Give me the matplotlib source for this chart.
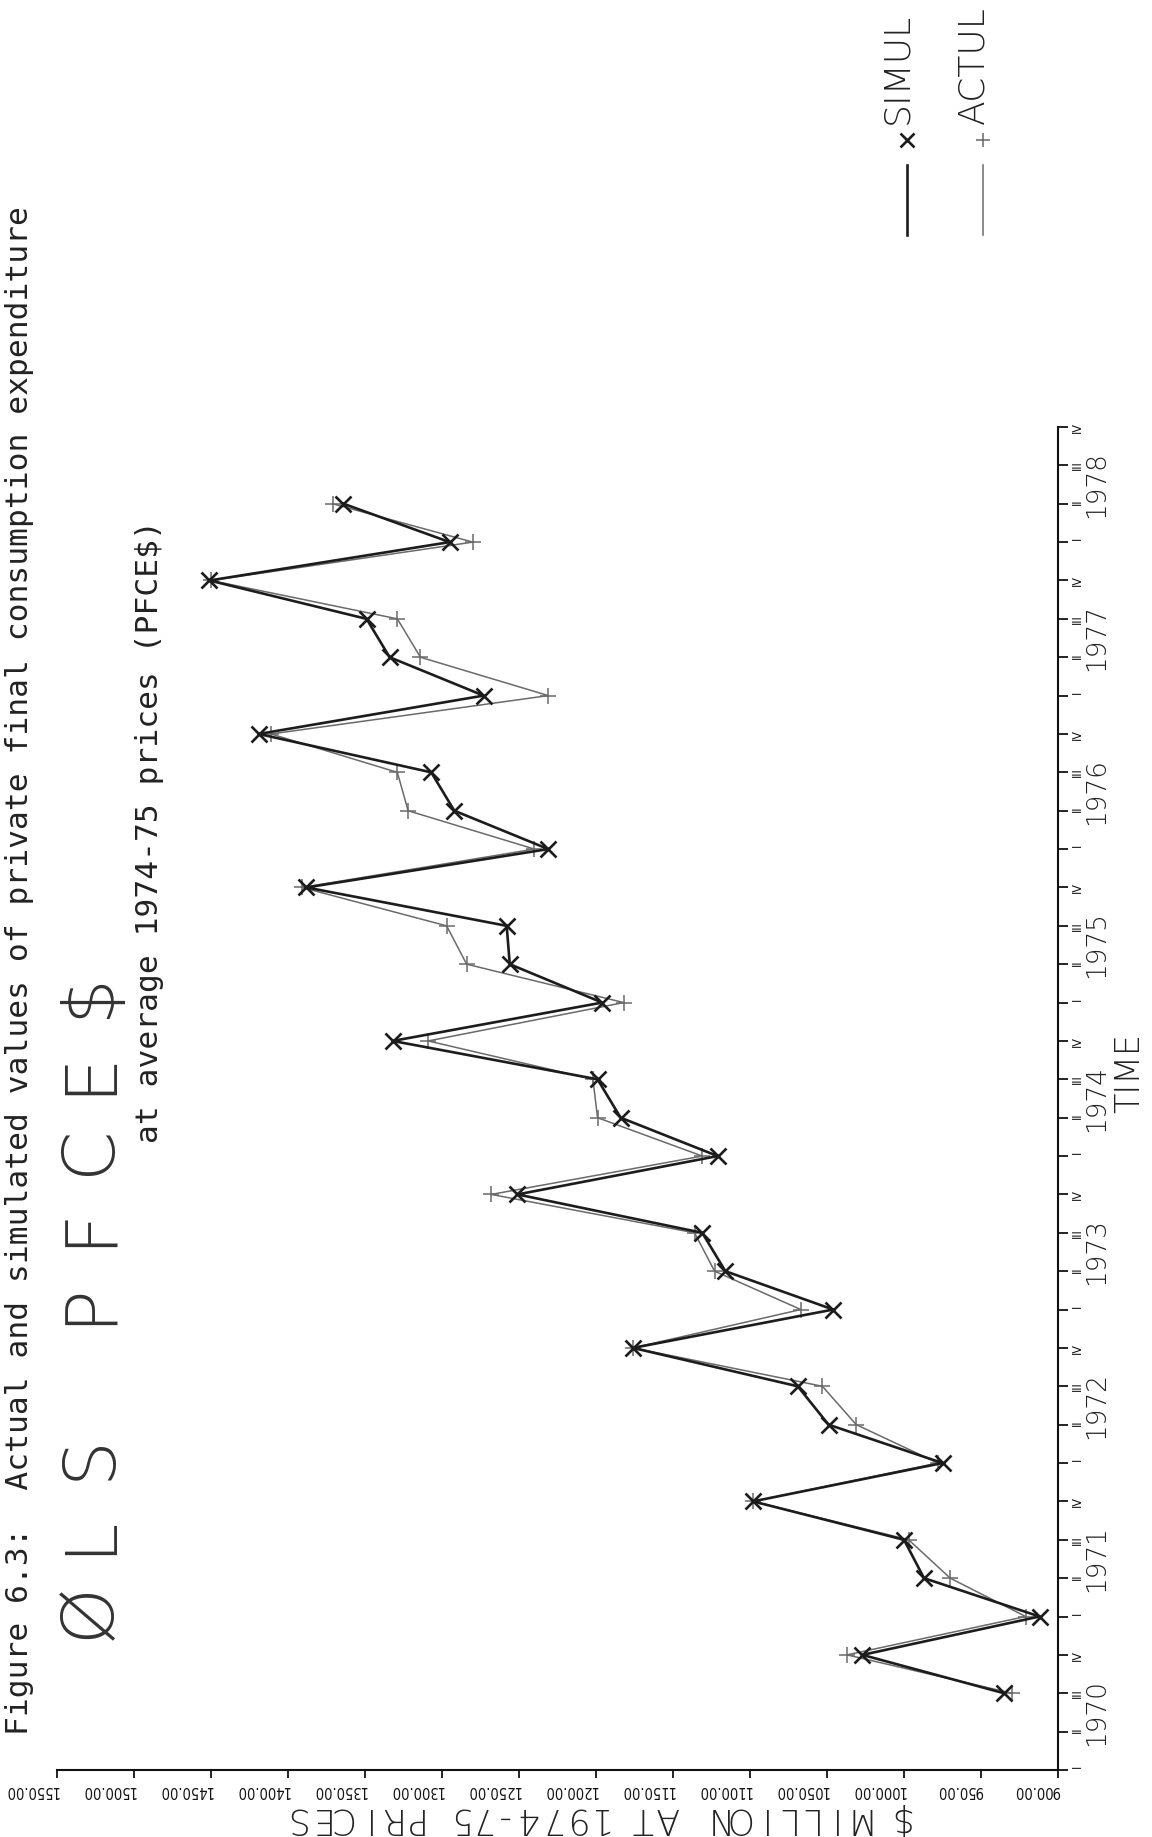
import os
import numpy as np
import matplotlib
matplotlib.use("Agg")
import matplotlib.pyplot as plt
from matplotlib import font_manager as fm
from matplotlib import transforms
from matplotlib.lines import Line2D

# ---------------- data ----------------
years = [1970, 1971, 1972, 1973, 1974, 1975, 1976, 1977, 1978]
quarter_names = ["I", "II", "III", "IV"]
# observations run from 1970 III to 1978 II
first_obs_index = 2  # 1970 III (index 0 = 1970 I)
simul = [935, 1027, 912, 987, 1000, 1098, 975, 1049, 1069, 1176,
         1046, 1116, 1131, 1251, 1121, 1184, 1199, 1332, 1196, 1256,
         1258, 1388, 1231, 1292, 1307, 1419, 1273, 1334, 1349, 1451,
         1295, 1364]
actual = [930, 1037, 921, 970, 997, 1098, 978, 1031, 1053, 1176,
          1067, 1123, 1136, 1268, 1131, 1199, 1202, 1309, 1182, 1284,
          1297, 1391, 1240, 1322, 1329, 1411, 1231, 1314, 1329, 1450,
          1280, 1371]
value_ticks = [900, 950, 1000, 1050, 1100, 1150, 1200, 1250, 1300,
               1350, 1400, 1450, 1500, 1550]

title_text = "ØLS PFCE$"
caption1 = "Figure 6.3:  Actual and simulated values of private final consumption expenditure"
caption2 = "at average 1974-75 prices (PFCE$)"
ylabel_text = "$ MILLION AT 1974-75 PRICES"
xlabel_text = "TIME"
legend_names = ["SIMUL", "ACTUL"]

# ---------------- fonts ----------------
def find_font(names):
    files = {}
    for f in fm.fontManager.ttflist:
        files[os.path.basename(f.fname).lower()] = f.fname
    for n in names:
        if n.lower() in files:
            return files[n.lower()]
    return None

narrow_file = find_font(["LiberationSansNarrow-Regular.ttf",
                         "NotoSans-CondensedLight.ttf",
                         "NotoSans-Condensed.ttf",
                         "OpenSans-CondensedLight.ttf",
                         "OpenSans_Condensed-Light.ttf",
                         "DejaVuSansCondensed.ttf"])

def narrow_fp(size):
    if narrow_file:
        return fm.FontProperties(fname=narrow_file, size=size)
    return fm.FontProperties(family="DejaVu Sans", size=size)

W, H = 1152, 1837
fig = plt.figure(figsize=(W / 100, H / 100), dpi=100)
fig.patch.set_facecolor("white")

def fx(px):
    return px / W

def fy(py):
    return 1 - py / H

# axes geometry in pixels
ax_left, ax_right = 57, 1058
ax_top, ax_bottom = 427, 1770
ax = fig.add_axes([fx(ax_left), fy(ax_bottom), fx(ax_right) - fx(ax_left),
                   fy(ax_top) - fy(ax_bottom)])
ax.set_facecolor("none")

n_q = len(years) * 4
t = np.arange(first_obs_index, first_obs_index + len(simul))

ax.plot(actual, t, color="#6a6a6a", lw=1.1, marker="+", ms=11, mew=1.1,
        zorder=2)
ax.plot(simul, t, color="#1c1c1c", lw=1.9, marker="x", ms=11, mew=1.9,
        zorder=3)

ax.set_xlim(1550, 900)
ax.set_ylim(0, n_q - 1)

for s in ["top", "left"]:
    ax.spines[s].set_visible(False)
for s in ["right", "bottom"]:
    ax.spines[s].set_linewidth(1.5)
    ax.spines[s].set_color("#111111")

# value axis (bottom)
ax.set_xticks(value_ticks)
ax.set_xticklabels(["%.2f" % v for v in value_ticks], rotation=180,
                   ha="right", va="top", fontproperties=narrow_fp(10.5))
ax.tick_params(axis="x", direction="out", length=6, width=1.3, pad=3,
               colors="#111111")
off = transforms.ScaledTranslation(2 / 100, 0, fig.dpi_scale_trans)
for lab in ax.get_xticklabels():
    lab.set_transform(lab.get_transform() + off)

# time axis (right)
ax.yaxis.tick_right()
ax.set_yticks(np.arange(n_q))
ax.set_yticklabels(quarter_names * len(years), rotation=90,
                   fontproperties=narrow_fp(9))
ax.tick_params(axis="y", direction="out", length=7, width=1.3, pad=2,
               colors="#111111")

tr_year = transforms.blended_transform_factory(fig.transFigure, ax.transData)
for i, yr in enumerate(years):
    ax.text(fx(1097), i * 4 + 1.5, str(yr), transform=tr_year, rotation=90,
            rotation_mode="anchor", ha="center", va="center",
            fontsize=19, color="#222222", family="DejaVu Sans",
            fontweight="light")

fig.text(fx(1130), fy(1073), xlabel_text, rotation=90, rotation_mode="anchor",
         ha="center", va="center", fontsize=24, color="#222222",
         family="DejaVu Sans", fontweight="light")

# value-axis title, lettered with the plotter's wide spacing (reads upside down)
ylab_pitch = 23.3
ylab_right = 911
for k, ch in enumerate(ylabel_text):
    if ch == " ":
        continue
    cx = ylab_right - ylab_pitch * k - ylab_pitch / 2
    fig.text(fx(cx), fy(1818), ch, rotation=180, rotation_mode="anchor",
             ha="center", va="center", fontsize=25, color="#222222",
             family="DejaVu Sans", fontweight="light")

# legend (drawn rotated, top right)
leg_x = [907, 983]
leg_col = ["#1c1c1c", "#6a6a6a"]
leg_lw = [1.9, 1.1]
leg_mk = ["x", "+"]
for lx, name, c, lw, mk in zip(leg_x, legend_names, leg_col, leg_lw, leg_mk):
    fig.add_artist(Line2D([fx(lx), fx(lx)], [fy(165), fy(235)],
                          transform=fig.transFigure, color=c, lw=lw))
    fig.add_artist(Line2D([fx(lx)], [fy(140)], transform=fig.transFigure,
                          color=c, marker=mk, ms=10, mew=lw, lw=0))
    fig.text(fx(lx), fy(124), name, rotation=90, rotation_mode="anchor",
             ha="left", va="baseline", fontsize=26, color="#222222",
             family="DejaVu Sans", fontweight="light")

# title, letter-spaced like the plotter lettering
pitch = 77
for k, ch in enumerate(title_text):
    if ch == " ":
        continue
    cy = 1650 - pitch * k - pitch / 2
    fig.text(fx(90), fy(cy), ch, rotation=90, rotation_mode="anchor",
             ha="center", va="center", fontsize=52, color="#333333",
             family="DejaVu Sans", fontweight="light")

# typed captions
fig.text(fx(20), fy(1735), caption1, rotation=90, rotation_mode="anchor",
         ha="left", va="center", fontsize=22.5, color="#222222",
         family="DejaVu Sans Mono")
fig.text(fx(150), fy(1143), caption2, rotation=90, rotation_mode="anchor",
         ha="left", va="center", fontsize=22.5, color="#222222",
         family="DejaVu Sans Mono")

fig.savefig("out.png", dpi=100, facecolor="white")
